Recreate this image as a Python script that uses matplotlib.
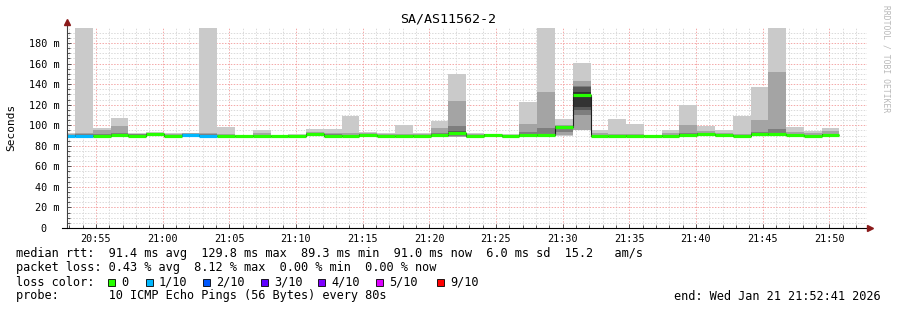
import matplotlib
matplotlib.use('Agg')
import matplotlib.pyplot as plt
import matplotlib.dates as mdates
from matplotlib.patches import Rectangle
import numpy as np
import pandas as pd

# ---- data ----
title = 'SA/AS11562-2'
step_edges = pd.date_range('2026-01-21 20:52:06', periods=45, freq='80s')   # 80 s steps
view_start = pd.Timestamp('2026-01-21 20:52:50')
view_end = pd.Timestamp('2026-01-21 21:52:50')

# 10 sorted ping rtts (ms) per step
pings = [
    [88.5, 89.0, 89.5, 89.8, 90.0, 90.0, 90.2, 90.5, 91.0, 92.0],
    [88.5, 89.0, 89.5, 89.8, 90.0, 90.2, 90.5, 91.0, 92.5, 300.0],
    [88.5, 89.0, 89.3, 89.5, 89.8, 90.0, 90.5, 91.0, 95.3, 97.6],
    [89.0, 89.5, 90.0, 90.2, 90.5, 90.7, 91.0, 92.0, 99.5, 107.0],
    [88.8, 89.2, 89.5, 89.8, 90.0, 90.2, 90.5, 91.0, 91.8, 92.8],
    [89.5, 90.0, 90.5, 90.8, 91.0, 91.2, 91.5, 92.0, 92.5, 93.4],
    [88.2, 88.6, 89.0, 89.3, 89.5, 89.6, 90.0, 90.5, 91.2, 92.4],
    [89.5, 89.8, 90.0, 90.3, 90.5, 90.6, 91.0, 91.3, 92.0, 92.5],
    [88.5, 89.0, 89.5, 89.8, 90.0, 90.2, 90.5, 91.0, 92.4, 300.0],
    [88.3, 88.7, 89.0, 89.3, 89.5, 89.7, 90.0, 90.5, 91.5, 98.5],
    [88.0, 88.4, 88.8, 89.1, 89.3, 89.4, 89.6, 89.9, 90.2, 90.6],
    [88.5, 88.9, 89.2, 89.5, 89.8, 90.0, 90.3, 90.8, 92.0, 95.0],
    [88.0, 88.4, 88.8, 89.1, 89.3, 89.4, 89.6, 89.9, 90.2, 90.6],
    [88.0, 88.5, 88.9, 89.2, 89.5, 89.6, 89.9, 90.2, 90.5, 91.0],
    [89.5, 90.0, 90.3, 90.7, 91.0, 91.2, 91.5, 92.0, 93.0, 96.6],
    [88.8, 89.2, 89.5, 89.8, 90.0, 90.2, 90.5, 91.0, 92.5, 96.6],
    [88.5, 89.0, 89.3, 89.6, 89.8, 90.0, 90.3, 90.8, 92.0, 109.3],
    [89.2, 89.6, 90.0, 90.3, 90.5, 90.7, 91.0, 91.4, 92.0, 93.0],
    [88.8, 89.2, 89.5, 89.8, 90.0, 90.1, 90.4, 90.8, 91.3, 92.0],
    [88.0, 88.4, 88.8, 89.1, 89.4, 89.5, 89.7, 90.0, 91.0, 100.2],
    [88.5, 88.9, 89.2, 89.5, 89.8, 89.9, 90.2, 90.6, 91.2, 92.0],
    [89.2, 89.6, 90.0, 90.3, 90.5, 90.7, 91.0, 92.0, 97.6, 104.4],
    [88.5, 89.0, 90.0, 91.5, 92.3, 92.5, 94.0, 99.5, 123.9, 149.5],
    [88.0, 88.5, 89.0, 89.5, 89.8, 90.0, 90.3, 90.8, 91.5, 92.6],
    [89.8, 90.1, 90.4, 90.6, 90.8, 90.9, 91.0, 91.2, 91.4, 91.6],
    [88.0, 88.4, 88.8, 89.1, 89.3, 89.4, 89.6, 89.9, 90.5, 91.3],
    [89.0, 89.5, 90.0, 90.3, 90.7, 90.9, 91.5, 93.0, 101.0, 122.8],
    [88.5, 89.0, 89.5, 90.0, 90.2, 90.6, 91.5, 97.6, 132.3, 300.0],
    [89.5, 90.5, 93.4, 97.0, 98.3, 98.8, 99.0, 99.3, 100.0, 105.7],
    [95.0, 95.5, 110.0, 114.8, 118.0, 132.0, 137.0, 138.5, 143.3, 160.8],
    [88.5, 89.0, 89.3, 89.5, 89.8, 90.0, 90.3, 90.8, 92.0, 95.0],
    [88.0, 88.4, 88.8, 89.1, 89.4, 89.5, 89.7, 90.0, 91.5, 105.7],
    [88.5, 88.9, 89.2, 89.5, 89.8, 90.0, 90.3, 90.7, 91.5, 100.9],
    [88.3, 88.7, 89.0, 89.3, 89.5, 89.6, 89.9, 90.2, 90.5, 90.9],
    [88.5, 88.9, 89.2, 89.5, 89.8, 90.0, 90.3, 90.8, 92.0, 95.0],
    [89.5, 90.0, 90.3, 90.6, 90.8, 91.0, 91.5, 92.5, 100.2, 119.7],
    [90.0, 90.5, 90.8, 91.2, 91.5, 91.7, 92.0, 92.8, 94.0, 99.2],
    [89.0, 89.5, 89.8, 90.2, 90.5, 90.7, 91.0, 91.5, 92.5, 95.3],
    [88.2, 88.6, 89.0, 89.3, 89.5, 89.7, 90.0, 90.5, 91.5, 109.0],
    [90.0, 90.5, 91.0, 91.3, 91.5, 91.7, 92.0, 93.0, 105.0, 137.2],
    [89.5, 90.0, 90.5, 90.8, 91.0, 91.3, 92.0, 96.3, 151.8, 300.0],
    [89.5, 89.9, 90.2, 90.5, 90.8, 91.0, 91.3, 91.8, 93.0, 98.3],
    [88.5, 88.9, 89.2, 89.5, 89.8, 90.0, 90.3, 90.7, 92.4, 94.7],
    [89.5, 89.9, 90.2, 90.5, 90.8, 91.0, 91.3, 91.8, 94.7, 97.3],
]
median = [90.0, 90.0, 89.8, 90.5, 90.0, 91.1, 89.5, 90.5, 90.0, 89.5,
          89.3, 89.8, 89.3, 89.5, 91.0, 90.0, 89.8, 90.5, 90.0, 89.4,
          89.8, 90.5, 92.4, 89.8, 90.8, 89.3, 90.7, 90.2, 98.5, 129.8,
          89.8, 89.4, 89.8, 89.5, 89.8, 90.8, 91.5, 90.5, 89.5, 91.5,
          91.1, 90.8, 89.8, 90.8]
loss = [1, 1, 0, 0, 0, 0, 0, 1, 1, 0,
        0, 0, 0, 0, 0, 0, 0, 0, 0, 0,
        0, 0, 0, 0, 0, 0, 0, 0, 0, 0,
        0, 0, 0, 0, 0, 0, 0, 0, 0, 0,
        0, 0, 0, 0]

loss_levels = [0, 1, 2, 3, 4, 5, 9]
loss_labels = ['0', '1/10', '2/10', '3/10', '4/10', '5/10', '9/10']
loss_colors = ['#26ff00', '#00b8ff', '#0059ff', '#5e00ff', '#7e00ff', '#dd00ff', '#ff0000']

stat_lines = [
    'median rtt:  91.4 ms avg  129.8 ms max  89.3 ms min  91.0 ms now  6.0 ms sd  15.2   am/s',
    'packet loss: 0.43 % avg  8.12 % max  0.00 % min  0.00 % now',
    'loss color:',
    'probe:       10 ICMP Echo Pings (56 Bytes) every 80s',
]
end_text = 'end: Wed Jan 21 21:52:41 2026'
ymax = 194.6

# ---- drawing ----
W, H = 897, 310
MONO = 'DejaVu Sans Mono'
plt.rcParams['font.family'] = MONO
LEG = 8.55

fig = plt.figure(figsize=(W / 100, H / 100), dpi=100)
fig.patch.set_facecolor('white')
ax = fig.add_axes([67 / W, 82 / H, 800 / W, 200 / H])
ax.set_facecolor('white')

edges = mdates.date2num(step_edges.to_pydatetime())
P = np.array(pings)
n = P.shape[1]
half = n // 2

# smoke: outer pair lightest, inner pairs darker (SmokePing colouring)
for i in range(half):
    g = int(190 / half * (half - (i + 1))) + 50
    col = '#%02x%02x%02x' % (g, g, g)
    ax.stairs(P[:, n - 1 - i], edges, baseline=P[:, i], fill=True,
              color=col, lw=0, zorder=2)

# thin median step line, then thick loss coloured median
ax.stairs(median, edges, baseline=None, color='#202020', lw=0.8, zorder=3)
seg_cols = []
for l in loss:
    k = max(j for j, lv in enumerate(loss_levels) if lv <= l)
    seg_cols.append(loss_colors[k])
hl = ax.hlines(median, edges[:-1], edges[1:], colors=seg_cols, lw=2.3, zorder=4)
hl.set_capstyle('butt')

ax.set_xlim(mdates.date2num(view_start.to_pydatetime()), mdates.date2num(view_end.to_pydatetime()))
ax.set_ylim(0, ymax)
ax.xaxis_date()
ax.xaxis.set_major_locator(mdates.MinuteLocator(byminute=range(0, 60, 5)))
ax.xaxis.set_minor_locator(mdates.MinuteLocator())
ax.xaxis.set_major_formatter(mdates.DateFormatter('%H:%M'))
ax.yaxis.set_major_locator(plt.MultipleLocator(20))
ax.yaxis.set_minor_locator(plt.MultipleLocator(5))
ax.yaxis.set_major_formatter(plt.FuncFormatter(lambda v, p: '0  ' if v == 0 else '%d m' % v))

ax.grid(which='minor', color='#dadada', lw=0.7, ls=(0, (1.5, 1.5)), zorder=0)
ax.grid(which='major', color='#f4a8a8', lw=0.7, ls=(0, (1.5, 1.5)), zorder=0)
ax.set_axisbelow(True)

ax.tick_params(which='both', direction='in', colors='#505050', labelcolor='black',
               labelsize=7.3, width=0.7)
ax.tick_params(axis='y', which='major', length=3, pad=5.5)
ax.tick_params(axis='y', which='minor', length=2)
ax.tick_params(axis='x', which='major', length=3, pad=4)
ax.tick_params(axis='x', which='minor', length=2)
for s in ax.spines.values():
    s.set_visible(False)

# axis lines with arrows (rrdtool style)
ax.plot([0, 0], [0, 1.03], transform=ax.transAxes, color='#404040', lw=0.8, clip_on=False, zorder=5)
ax.plot([-5 / 800, 1.004], [0, 0], transform=ax.transAxes, color='black', lw=0.8, clip_on=False, zorder=5)
ax.plot([0], [1.03], marker='^', ms=4.5, color='#8b1a1a', transform=ax.transAxes, clip_on=False, zorder=6)
ax.plot([1.004], [0], marker='>', ms=4.5, color='#8b1a1a', transform=ax.transAxes, clip_on=False, zorder=6)


def px(x, y):
    return x / W, 1 - y / H


fig.text(*px(448, 19), title, ha='center', va='center', fontsize=9.6)
fig.text(*px(11, 127), 'Seconds', ha='center', va='center', rotation=90, fontsize=8)
fig.text(*px(886, 5), 'RRDTOOL / TOBI OETIKER', ha='center', va='top', rotation=270,
         fontsize=5.8, color='#b8b8b8')

line_y = [254, 268, 282, 296]
for txt, y in zip(stat_lines, line_y):
    fig.text(*px(16, y), txt, ha='left', va='center', fontsize=LEG)
fig.text(*px(881, 296), end_text, ha='right', va='center', fontsize=LEG)

box_x = [108, 146, 203, 261, 318, 376, 437]
for bx, lab, col in zip(box_x, loss_labels, loss_colors):
    fig.patches.append(Rectangle(px(bx, 286), 7 / W, 7 / H, transform=fig.transFigure,
                                 facecolor=col, edgecolor='black', lw=0.6))
    fig.text(*px(bx + 13, 282), lab, ha='left', va='center', fontsize=LEG)

fig.savefig('out.png', dpi=100)
